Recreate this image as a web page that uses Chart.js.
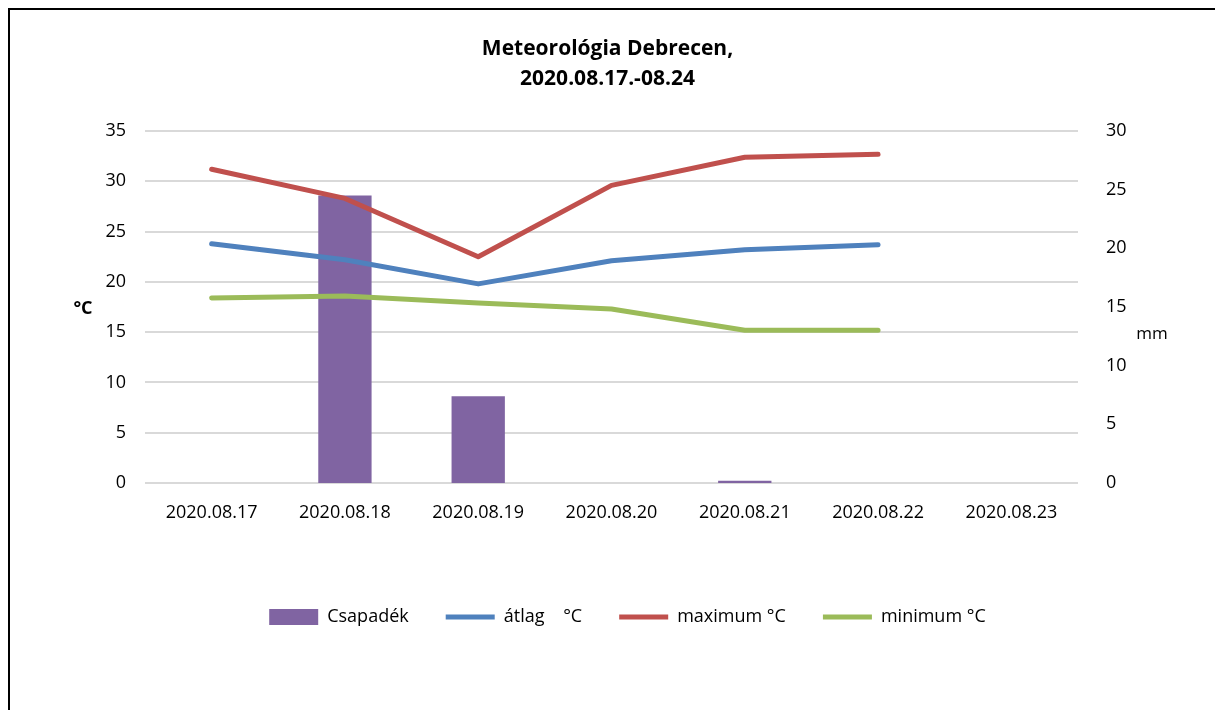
<!DOCTYPE html>
<html lang="hu">
<head>
<meta charset="utf-8">
<title>Meteorológia Debrecen</title>
<script src="https://cdn.jsdelivr.net/npm/chart.js@4.4.1/dist/chart.umd.min.js"></script>
<style>
    html, body { margin: 0; padding: 0; background: #fff; }
    .frame {
        position: absolute;
        left: 8px;
        top: 8px;
        width: 1207px;
        height: 702px;
        border-left: 2px solid #000;
        border-top: 2px solid #000;
        box-sizing: border-box;
    }
    .chart-box {
        position: absolute;
        left: 0;
        top: 0;
        width: 1215px;
        height: 710px;
    }
</style>
</head>
<body>
<div class="frame"></div>
<div class="chart-box"><canvas id="weatherChart" width="1215" height="710"></canvas></div>
<script>
    const days = ['2020.08.17', '2020.08.18', '2020.08.19', '2020.08.20', '2020.08.21', '2020.08.22', '2020.08.23'];
    const rainMm = [0, 24.5, 7.4, 0, 0.2, 0, 0];
    const avgTemp = [23.8, 22.2, 19.8, 22.1, 23.2, 23.7, null];
    const maxTemp = [31.2, 28.3, 22.5, 29.6, 32.4, 32.7, null];
    const minTemp = [18.4, 18.6, 17.9, 17.3, 15.2, 15.2, null];
    const tempTicks = { min: 0, max: 35, step: 5 };
    const rainTicks = { min: 0, max: 30, step: 5 };

    const FONT = "'Open Sans', 'Liberation Sans', sans-serif";
    const GRID = '#d9d9d9';
    const LEGEND_SHIFT = 20;

    // unrotated axis titles, like the Excel original
    const axisTitles = {
        id: 'axisTitles',
        afterLayout(chart) {
            // Excel puts the legend a bit right of centre
            if (chart.legend) {
                chart.legend.left += LEGEND_SHIFT;
                chart.legend.right += LEGEND_SHIFT;
            }
        },
        afterDraw(chart) {
            const { ctx, chartArea } = chart;
            const midY = (chartArea.top + chartArea.bottom) / 2;
            ctx.save();
            ctx.fillStyle = '#000';
            ctx.textAlign = 'center';
            ctx.textBaseline = 'middle';
            ctx.font = `bold 18px ${FONT}`;
            ctx.fillText('°C', chartArea.left - 62, midY + 2);
            ctx.font = `17px ${FONT}`;
            ctx.fillText('mm', chartArea.right + 74, midY + 27);
            ctx.restore();
        }
    };

    function lineSet(label, data, color) {
        return {
            type: 'line',
            label,
            data,
            yAxisID: 'y',
            borderColor: color,
            backgroundColor: color,
            borderWidth: 5,
            borderCapStyle: 'round',
            borderJoinStyle: 'round',
            pointRadius: 0,
            pointHoverRadius: 0,
            pointStyle: 'line',
            tension: 0,
            spanGaps: false,
            order: 1
        };
    }

    new Chart(document.getElementById('weatherChart'), {
        data: {
            labels: days,
            datasets: [
                {
                    type: 'bar',
                    label: 'Csapadék',
                    data: rainMm,
                    yAxisID: 'y1',
                    backgroundColor: '#8064a2',
                    borderWidth: 0,
                    barPercentage: 0.4,
                    categoryPercentage: 1,
                    pointStyle: 'rect',
                    order: 2
                },
                lineSet('átlag    °C', avgTemp, '#4f81bd'),
                lineSet('maximum °C', maxTemp, '#c0504d'),
                lineSet('minimum °C', minTemp, '#9bbb59')
            ]
        },
        options: {
            responsive: false,
            animation: false,
            layout: { padding: { top: 0, bottom: 74, left: 0, right: 0 } },
            plugins: {
                tooltip: { enabled: false },
                title: {
                    display: true,
                    text: ['Meteorológia Debrecen,', '2020.08.17.-08.24'],
                    color: '#000',
                    font: { family: FONT, size: 21, weight: 'bold', lineHeight: 1.43 },
                    padding: { top: 34, bottom: 37 }
                },
                legend: {
                    position: 'bottom',
                    labels: {
                        color: '#000',
                        font: { family: FONT, size: 18 },
                        usePointStyle: true,
                        pointStyleWidth: 49,
                        boxHeight: 16,
                        padding: 37,
                        sort: (a, b) => a.datasetIndex - b.datasetIndex
                    }
                }
            },
            scales: {
                x: {
                    grid: { display: false },
                    border: { display: false },
                    ticks: {
                        color: '#000',
                        font: { family: FONT, size: 18 },
                        padding: 11,
                        maxRotation: 0,
                        autoSkip: false
                    },
                    afterFit(scale) { scale.height = 88; }
                },
                y: {
                    position: 'left',
                    min: tempTicks.min,
                    max: tempTicks.max,
                    grid: { color: GRID, lineWidth: 2, drawTicks: false },
                    border: { display: false },
                    ticks: {
                        stepSize: tempTicks.step,
                        color: '#000',
                        font: { family: FONT, size: 18 },
                        padding: 19
                    },
                    afterFit(scale) { scale.width = 145; }
                },
                y1: {
                    position: 'right',
                    min: rainTicks.min,
                    max: rainTicks.max,
                    grid: { display: false },
                    border: { display: false },
                    ticks: {
                        stepSize: rainTicks.step,
                        color: '#000',
                        font: { family: FONT, size: 18 },
                        padding: 20
                    },
                    afterFit(scale) { scale.width = 137; }
                }
            }
        },
        plugins: [axisTitles]
    });
</script>
</body>
</html>
